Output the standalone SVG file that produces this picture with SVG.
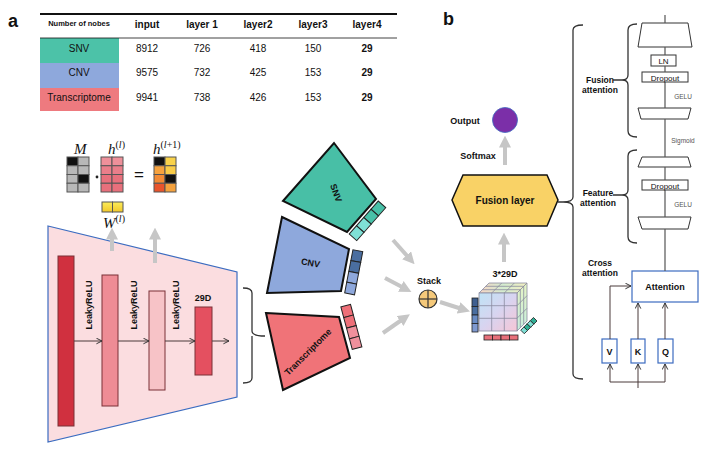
<svg xmlns="http://www.w3.org/2000/svg" width="707" height="451" viewBox="0 0 707 451">
<defs>
<style>
text{font-family:"Liberation Sans",Arial,sans-serif;fill:#111}
.b{font-weight:bold}
.hd{font-size:10px;font-weight:bold;text-anchor:middle}
.cell{font-size:10px;text-anchor:middle}
.math{font-family:"Liberation Serif","DejaVu Serif",serif;font-style:italic;font-size:15px}
.sup{font-size:10px}
.gray{stroke:#c6c6c6;stroke-width:4;fill:none}
.blk{stroke:#4a3a3a;stroke-width:1;fill:none}
.rp{stroke:#555;stroke-width:1.2;fill:none}
.brk{stroke:#333;stroke-width:1.3;fill:none}
.box{fill:#fff;stroke:#333;stroke-width:1}
.small{font-size:6.5px;fill:#555}
.mc{stroke:#555;stroke-width:1}
</style>
<marker id="ga" viewBox="0 0 10 10" refX="3" refY="5" markerWidth="3" markerHeight="3" orient="auto" markerUnits="strokeWidth"><path d="M0,0 L10,5 L0,10 z" fill="#c6c6c6"/></marker>
<marker id="ch" viewBox="0 0 10 10" refX="9" refY="5" markerWidth="7" markerHeight="7" orient="auto" markerUnits="userSpaceOnUse"><path d="M1,1 L9,5 L1,9" fill="none" stroke="#333" stroke-width="1.4"/></marker>
<linearGradient id="cube" x1="0" y1="0" x2="1" y2="1"><stop offset="0" stop-color="#bfe3f5"/><stop offset="0.5" stop-color="#d8d4f0"/><stop offset="1" stop-color="#f6c6d6"/></linearGradient>
<linearGradient id="ctop" x1="0" y1="0" x2="1" y2="0"><stop offset="0" stop-color="#f6d4c4"/><stop offset="0.5" stop-color="#d4ecd0"/><stop offset="1" stop-color="#f2eec0"/></linearGradient>
<linearGradient id="cside" x1="0" y1="0" x2="0" y2="1"><stop offset="0" stop-color="#e6f4c4"/><stop offset="1" stop-color="#c6eede"/></linearGradient>
<linearGradient id="yel" x1="0" y1="0" x2="0" y2="1"><stop offset="0" stop-color="#fbec5a"/><stop offset="1" stop-color="#f2c82a"/></linearGradient>
</defs>
<rect width="707" height="451" fill="#fff"/>

<!-- panel labels -->
<text x="8" y="27" class="b" font-size="18">a</text>
<text x="443" y="25" class="b" font-size="18">b</text>

<!-- table -->
<g id="table">
<rect x="40" y="38" width="79" height="25" fill="#4cc2a8"/>
<rect x="40" y="63" width="79" height="25" fill="#8ea8dc"/>
<rect x="40" y="88" width="79" height="23" fill="#ee7a7f"/>
<line x1="40" y1="14" x2="397" y2="14" stroke="#111" stroke-width="2"/>
<line x1="40" y1="38" x2="397" y2="38" stroke="#111" stroke-width="0.8"/>
<text x="79" y="26" font-size="7.5" class="b" text-anchor="middle">Number of nobes</text>
<text x="147" y="28" class="hd">input</text>
<text x="202" y="28" class="hd">layer 1</text>
<text x="258" y="28" class="hd">layer2</text>
<text x="313" y="28" class="hd">layer3</text>
<text x="367" y="28" class="hd">layer4</text>
<text x="79" y="52" class="cell">SNV</text>
<text x="79" y="76" class="cell">CNV</text>
<text x="79" y="101" class="cell">Transcriptome</text>
<text x="147" y="52" class="cell">8912</text><text x="202" y="52" class="cell">726</text><text x="258" y="52" class="cell">418</text><text x="313" y="52" class="cell">150</text><text x="367" y="52" class="cell b">29</text>
<text x="147" y="76" class="cell">9575</text><text x="202" y="76" class="cell">732</text><text x="258" y="76" class="cell">425</text><text x="313" y="76" class="cell">153</text><text x="367" y="76" class="cell b">29</text>
<text x="147" y="101" class="cell">9941</text><text x="202" y="101" class="cell">738</text><text x="258" y="101" class="cell">426</text><text x="313" y="101" class="cell">153</text><text x="367" y="101" class="cell b">29</text>
</g>

<!-- formula -->
<g id="formula">
<text x="74" y="154" class="math">M</text>
<g class="mc">
<rect x="67" y="157" width="11" height="8.75" fill="#111"/><rect x="78" y="157" width="11" height="8.75" fill="#b8b8b8"/>
<rect x="67" y="165.75" width="11" height="8.75" fill="#b8b8b8"/><rect x="78" y="165.75" width="11" height="8.75" fill="#b8b8b8"/>
<rect x="67" y="174.5" width="11" height="8.75" fill="#b8b8b8"/><rect x="78" y="174.5" width="11" height="8.75" fill="#111"/>
<rect x="67" y="183.25" width="11" height="8.75" fill="#b8b8b8"/><rect x="78" y="183.25" width="11" height="8.75" fill="#b8b8b8"/>
</g>
<circle cx="97" cy="177" r="1.4" fill="#222"/>
<text x="108" y="154" class="math">h<tspan class="sup" dy="-6" font-style="normal">(</tspan><tspan class="sup">l</tspan><tspan class="sup" font-style="normal">)</tspan></text>
<g class="mc">
<rect x="101" y="157" width="11" height="8.75" fill="#ee909a"/><rect x="112" y="157" width="11" height="8.75" fill="#ee909a"/>
<rect x="101" y="165.75" width="11" height="8.75" fill="#ea7e8a"/><rect x="112" y="165.75" width="11" height="8.75" fill="#ea7e8a"/>
<rect x="101" y="174.5" width="11" height="8.75" fill="#e8707c"/><rect x="112" y="174.5" width="11" height="8.75" fill="#e8707c"/>
<rect x="101" y="183.25" width="11" height="8.75" fill="#e8707c"/><rect x="112" y="183.25" width="11" height="8.75" fill="#e8707c"/>
</g>
<text x="139" y="180" font-size="17" text-anchor="middle" font-family="Liberation Sans,sans-serif">=</text>
<text x="153" y="154" class="math">h<tspan class="sup" dy="-6" font-style="normal">(</tspan><tspan class="sup">l</tspan><tspan class="sup" font-style="normal">+1)</tspan></text>
<g class="mc">
<rect x="154" y="157" width="11" height="8.75" fill="#111"/><rect x="165" y="157" width="11" height="8.75" fill="#f9d24a"/>
<rect x="154" y="165.75" width="11" height="8.75" fill="#f6a23e"/><rect x="165" y="165.75" width="11" height="8.75" fill="#f9cc48"/>
<rect x="154" y="174.5" width="11" height="8.75" fill="#f28a34"/><rect x="165" y="174.5" width="11" height="8.75" fill="#111"/>
<rect x="154" y="183.25" width="11" height="8.75" fill="#e8542c"/><rect x="165" y="183.25" width="11" height="8.75" fill="#f4a23e"/>
</g>
<g class="mc">
<rect x="102" y="202" width="10.5" height="10" fill="url(#yel)"/><rect x="112.5" y="202" width="10.5" height="10" fill="url(#yel)"/>
</g>
<text x="103" y="228" class="math">W<tspan class="sup" dy="-6" font-style="normal">(</tspan><tspan class="sup">l</tspan><tspan class="sup" font-style="normal">)</tspan></text>
</g>

<!-- encoder -->
<g id="encoder">
<polygon points="48,226 237,272 237,397 48,442" fill="#fbdde0" stroke="#3c6cc0" stroke-width="1.2"/>
<rect x="58" y="256" width="16" height="170" fill="#d0303f" stroke="#7a3036" stroke-width="1"/>
<rect x="102" y="275" width="16" height="131" fill="#ee8c95" stroke="#7a3036" stroke-width="1"/>
<rect x="149" y="291" width="16" height="99" fill="#f7c3c7" stroke="#7a3036" stroke-width="1"/>
<rect x="195" y="307" width="17" height="68" fill="#e45060" stroke="#7a3036" stroke-width="1"/>
<text transform="rotate(-90 91.5 305)" x="91.5" y="305" font-size="9" class="b" text-anchor="middle">LeakyReLU</text>
<text transform="rotate(-90 136.5 305)" x="136.5" y="305" font-size="9" class="b" text-anchor="middle">LeakyReLU</text>
<text transform="rotate(-90 178.5 305)" x="178.5" y="305" font-size="9" class="b" text-anchor="middle">LeakyReLU</text>
<text x="203" y="301" font-size="9" class="b" text-anchor="middle">29D</text>
</g>

<!-- SNV -->
<g id="snv">
<polygon points="334,143 376,199 347,232 283,201" fill="#48bfa6" stroke="#111" stroke-width="2"/>
<text transform="rotate(70 336 193)" x="336" y="196" font-size="9" class="b" text-anchor="middle">SNV</text>
<g transform="translate(376,199) rotate(131.3)" stroke="#222" stroke-width="1">
<rect x="0" y="-13" width="11" height="10" fill="#48c1a8"/><rect x="11" y="-13" width="11" height="10" fill="#48c1a8"/>
<rect x="22" y="-13" width="11" height="10" fill="#7fe0d6"/><rect x="33" y="-13" width="11" height="10" fill="#7fe0d6"/>
</g>
</g>

<!-- CNV -->
<g id="cnv">
<polygon points="282,217 349,249 341,291 267,293" fill="#8ea8dc" stroke="#111" stroke-width="2"/>
<text transform="rotate(10 310 266)" x="310" y="266" font-size="9" class="b" text-anchor="middle">CNV</text>
<g transform="translate(349,249) rotate(100.8)" stroke="#222" stroke-width="1">
<rect x="0" y="-14" width="11" height="10" fill="#4a6ea0"/><rect x="11" y="-14" width="11" height="10" fill="#4a6ea0"/>
<rect x="22" y="-14" width="11" height="10" fill="#8ea8dc"/><rect x="33" y="-14" width="11" height="10" fill="#8ea8dc"/>
</g>
</g>

<!-- Transcriptome -->
<g id="transcriptome">
<polygon points="266,313 339,317 350,358 283,390" fill="#f07378" stroke="#111" stroke-width="2"/>
<text transform="rotate(-45 308 352)" x="308" y="355" font-size="9" class="b" text-anchor="middle">Transcriptome</text>
<g transform="translate(337,308) rotate(75)" stroke="#222" stroke-width="1">
<rect x="0" y="-14" width="11" height="10" fill="#ee6f78"/><rect x="11" y="-14" width="11" height="10" fill="#ee6f78"/>
<rect x="22" y="-14" width="11" height="10" fill="#f0909c"/><rect x="33" y="-14" width="11" height="10" fill="#f0909c"/>
</g>
</g>

<!-- stack -->
<g id="stack">
<text x="429" y="284" font-size="9" class="b" text-anchor="middle">Stack</text>
<circle cx="428" cy="299" r="9" fill="#f5c97a" stroke="#333" stroke-width="1.2"/>
<line x1="419" y1="299" x2="437" y2="299" stroke="#333" stroke-width="1.2"/>
<line x1="428" y1="290" x2="428" y2="308" stroke="#333" stroke-width="1.2"/>
</g>

<!-- cube -->
<g id="cube3">
<text x="505" y="277" font-size="9" class="b" text-anchor="middle">3*29D</text>
<polygon points="479,293 517,293 527,283 489,283" fill="url(#ctop)" stroke="#8a8aa0" stroke-width="0.8"/>
<polygon points="517,293 527,283 527,321 517,331" fill="url(#cside)" stroke="#8a8aa0" stroke-width="0.8"/>
<rect x="479" y="293" width="38" height="38" fill="url(#cube)" stroke="#8a8aa0" stroke-width="0.8"/>
<g stroke="#8a8aa0" stroke-width="0.8" fill="none">
<path d="M491.7,293 V331 M504.3,293 V331 M479,305.7 H517 M479,318.3 H517"/>
<path d="M491.7,293 L501.7,283 M504.3,293 L514.3,283 M482.3,289.7 H520.3 M485.7,286.3 H523.7"/>
<path d="M520.3,289.7 V327.7 M523.7,286.3 V324.3 M517,305.7 L527,295.7 M517,318.3 L527,308.3"/>
</g>
<g stroke="#222" stroke-width="0.8">
<rect x="472" y="298" width="6" height="8.5" fill="#3f5f90"/><rect x="472" y="306.5" width="6" height="8.5" fill="#4a6ea0"/>
<rect x="472" y="315" width="6" height="8.5" fill="#6a8cc4"/><rect x="472" y="323.5" width="6" height="8.5" fill="#7f9ad0"/>
<rect x="484" y="335" width="8.5" height="5" fill="#e8707a"/><rect x="492.5" y="335" width="8.5" height="5" fill="#e8707a"/>
<rect x="501" y="335" width="8.5" height="5" fill="#e8707a"/><rect x="509.5" y="335" width="8.5" height="5" fill="#e8707a"/>
</g>
<g transform="translate(537,321) rotate(135)" stroke="#222" stroke-width="0.8">
<rect x="0" y="0" width="4.5" height="5" fill="#2fae94"/><rect x="4.5" y="0" width="4.5" height="5" fill="#7fe0d6"/>
<rect x="9" y="0" width="4.5" height="5" fill="#2fae94"/><rect x="13.5" y="0" width="4.5" height="5" fill="#7fe0d6"/>
</g>
</g>

<!-- fusion layer / output -->
<g id="fusion">
<polygon points="452,200 463,175 547,175 558,200 547,226 463,226" fill="#f9d266" stroke="#111" stroke-width="1.5"/>
<text x="505" y="204" font-size="10" class="b" text-anchor="middle">Fusion layer</text>
</g>
<g id="output">
<circle cx="505" cy="120" r="12.5" fill="#7b2fa8" stroke="#3c6cc0" stroke-width="0.8"/>
<text x="465" y="124" font-size="9" class="b" text-anchor="middle">Output</text>
<text x="478" y="159" font-size="9" class="b" text-anchor="middle">Softmax</text>
</g>

<!-- right panel -->
<g id="fusion-attention">
<polygon points="642,23 688,23 692,47 638,47" class="box"/>
<rect x="651" y="55" width="25" height="11" class="box"/>
<text x="663.5" y="63.5" font-size="8" text-anchor="middle">LN</text>
<rect x="642" y="72" width="46" height="10" class="box"/>
<text x="665" y="80.5" font-size="8" text-anchor="middle">Dropout</text>
<text x="683" y="99" class="small" text-anchor="middle">GELU</text>
<polygon points="638,108 691,108 688,119 641,119" class="box"/>
<text x="683" y="143" class="small" text-anchor="middle">Sigmoid</text>
</g>
<g id="feature-attention">
<polygon points="642,157 688,157 691,167 638,167" class="box"/>
<rect x="642" y="180" width="46" height="10" class="box"/>
<text x="665" y="188.5" font-size="8" text-anchor="middle">Dropout</text>
<text x="683" y="207" class="small" text-anchor="middle">GELU</text>
<polygon points="638,217 691,217 688,229 642,229" class="box"/>
</g>
<g id="attention">
<rect x="632" y="271" width="66" height="31" fill="#fff" stroke="#3c6cc0" stroke-width="1.2"/>
<text x="665" y="290" font-size="9" class="b" text-anchor="middle">Attention</text>
</g>
<g id="vkq">
<rect x="602" y="339" width="15" height="24" fill="#fff" stroke="#3c6cc0" stroke-width="1.2"/>
<text x="609.5" y="355" font-size="9" class="b" text-anchor="middle">V</text>
<rect x="631" y="339" width="14" height="24" fill="#fff" stroke="#3c6cc0" stroke-width="1.2"/>
<text x="638" y="355" font-size="9" class="b" text-anchor="middle">K</text>
<rect x="658" y="339" width="15" height="24" fill="#fff" stroke="#3c6cc0" stroke-width="1.2"/>
<text x="665.5" y="355" font-size="9" class="b" text-anchor="middle">Q</text>
</g>
<g id="labels-b">
<text x="600" y="83" font-size="8.5" class="b" text-anchor="middle">Fusion</text>
<text x="600" y="93" font-size="8.5" class="b" text-anchor="middle">attention</text>
<text x="598" y="196" font-size="8.5" class="b" text-anchor="middle">Feature</text>
<text x="598" y="206" font-size="8.5" class="b" text-anchor="middle">attention</text>
<text x="600" y="266" font-size="8.5" class="b" text-anchor="middle">Cross</text>
<text x="600" y="276" font-size="8.5" class="b" text-anchor="middle">attention</text>
</g>

<!-- connectors -->
<g id="connectors">
<!-- encoder flow -->
<line x1="74" y1="341" x2="102" y2="341" class="blk" marker-end="url(#ch)"/>
<line x1="118" y1="341" x2="149" y2="341" class="blk" marker-end="url(#ch)"/>
<line x1="165" y1="341" x2="195" y2="341" class="blk" marker-end="url(#ch)"/>
<line x1="212" y1="341" x2="229" y2="341" class="blk" marker-end="url(#ch)"/>
<!-- gray arrows -->
<line x1="112" y1="251" x2="112" y2="236" class="gray" marker-end="url(#ga)"/>
<line x1="155" y1="263" x2="155" y2="236" class="gray" marker-end="url(#ga)"/>
<line x1="393" y1="240" x2="409" y2="258" class="gray" marker-end="url(#ga)"/>
<line x1="385" y1="278" x2="404" y2="288" class="gray" marker-end="url(#ga)"/>
<line x1="383" y1="333" x2="403" y2="319" class="gray" marker-end="url(#ga)"/>
<line x1="440" y1="302" x2="462" y2="309" class="gray" marker-end="url(#ga)"/>
<line x1="504" y1="262" x2="504" y2="241" class="gray" marker-end="url(#ga)"/>
<line x1="505" y1="165" x2="505" y2="144" class="gray" marker-end="url(#ga)"/>
<!-- brackets -->
<path d="M243,288 Q252,288 252,293 L252,331 Q252,336 265,336 M252,336 Q252,336 252,341 L252,378 Q252,383 243,383" class="brk"/>
<path d="M583,25 Q573,25 573,30 L573,197 Q573,202 563,202 M558,202 L563,202 Q573,202 573,207 L573,374 Q573,379 583,379" class="brk"/>
<path d="M637,24 Q628,24 628,30 L628,75 Q628,80 622,80 L613,80 M622,80 Q628,80 628,85 L628,131 Q628,137 637,137" class="brk"/>
<path d="M637,150 Q628,150 628,156 L628,190 Q628,195 622,195 L613,195 M622,195 Q628,195 628,200 L628,237 Q628,243 637,243" class="brk"/>
<!-- right panel spine -->
<path d="M665,15 V23 M665,47 V55 M665,66 V72 M665,82 V108 M665,119 V157 M665,167 V180 M665,190 V217 M665,229 V271" class="rp"/>
<!-- V K Q -->
<path d="M610,339 V286 H631" class="blk" stroke="#222" marker-end="url(#ch)"/>
<line x1="638" y1="339" x2="638" y2="303" class="blk" stroke="#222" marker-end="url(#ch)"/>
<line x1="665" y1="339" x2="665" y2="303" class="blk" stroke="#222" marker-end="url(#ch)"/>
<path d="M638,388 V382 M610,382 H665" class="blk" stroke="#222"/>
<line x1="610" y1="382" x2="610" y2="364" class="blk" stroke="#222" marker-end="url(#ch)"/>
<line x1="638" y1="382" x2="638" y2="364" class="blk" stroke="#222" marker-end="url(#ch)"/>
<line x1="665" y1="382" x2="665" y2="364" class="blk" stroke="#222" marker-end="url(#ch)"/>
</g>
</svg>
